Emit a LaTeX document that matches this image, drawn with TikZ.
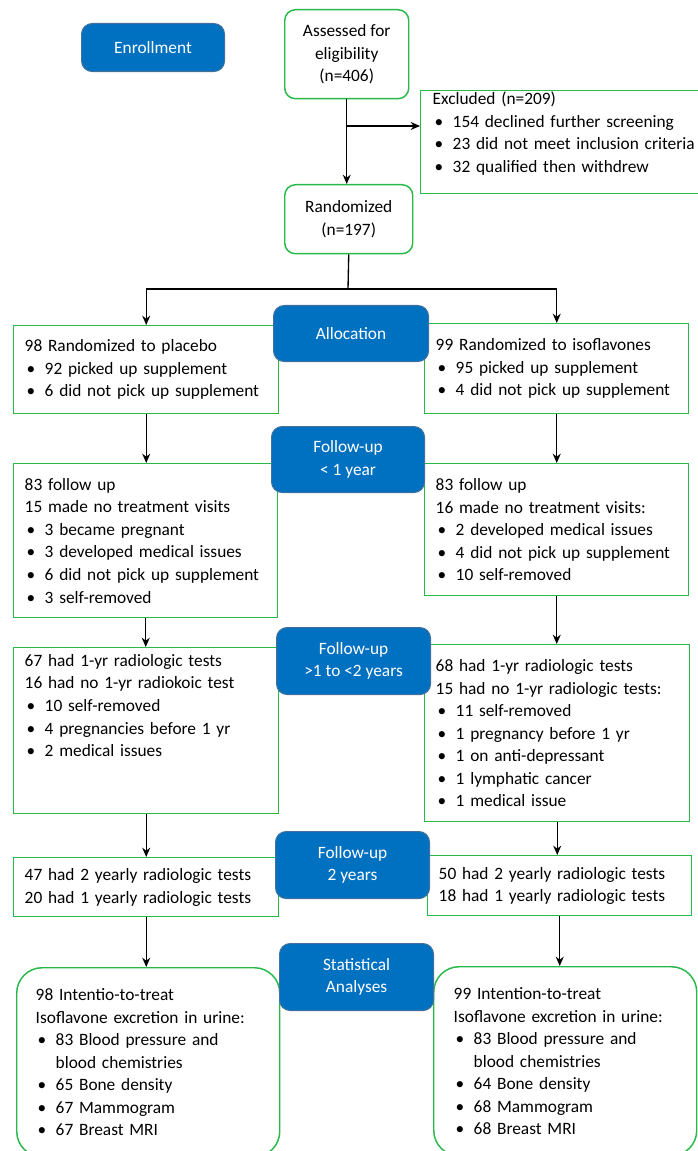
\documentclass[tikz,border=0pt]{standalone}
\usepackage{fontspec}
\setmainfont{Carlito}
\usetikzlibrary{arrows.meta}
\definecolor{boxgreen}{RGB}{40,185,75}
\definecolor{stageblue}{RGB}{0,112,192}
\definecolor{stageedge}{RGB}{65,113,156}
\newcommand{\bul}{\makebox[15pt][l]{\hspace{1.5pt}•}}
\newcommand{\ind}{\hspace*{15pt}}
\hyphenpenalty=10000
\tikzset{
    >={Stealth[length=7pt,width=6pt]},
    box/.append style={draw=boxgreen,line width=1.1pt,rectangle,align=left,inner xsep=8.25pt,inner ysep=2pt,anchor=north west},
    rbox/.append style={box,rounded corners=8pt,align=center},
    stage/.append style={fill=stageblue,draw=stageedge,line width=0.8pt,rounded corners=8pt,text=white,align=center,inner sep=0pt,anchor=north west},
}
\begin{document}
\begin{tikzpicture}[x=0.75pt,y=-0.75pt,font=\fontsize{13}{16.9}\selectfont,line width=1pt]
\useasboundingbox (0,0) rectangle (697,1151);

% enrollment
\node[rbox,minimum width=93pt,minimum height=66.75pt,inner sep=0pt] (assess) at (284,9) {Assessed for\\eligibility\\(n=406)};
\node[box,text width=207pt,inner xsep=9pt,inner ysep=1pt] (excl) at (420,90) {\parbox[c][75.25pt][t]{\linewidth}{Excluded (n=209)\\
    \bul 154 declined further screening\\
    \bul 23 did not meet inclusion criteria\\
    \bul 32 qualified then withdrew}};
\node[rbox,minimum width=96pt,minimum height=51.75pt,inner sep=0pt] (rand) at (284,184) {Randomized\\(n=197)};

% allocation
\node[box,text width=182.25pt,minimum height=66pt] (plac) at (13,325) {98 Randomized to placebo\\
    \bul 92 picked up supplement\\
    \bul 6 did not pick up supplement};
\node[box,text width=181.5pt,minimum height=67.5pt] (isof) at (424,323) {99 Randomized to isoflavones\\
    \bul 95 picked up supplement\\
    \bul 4 did not pick up supplement};

% follow-up
\node[box,text width=181.5pt,minimum height=115.5pt] (fu1l) at (13,463) {83 follow up\\
    15 made no treatment visits\\
    \bul 3 became pregnant\\
    \bul 3 developed medical issues\\
    \bul 6 did not pick up supplement\\
    \bul 3 self-removed};
\node[box,text width=181.5pt,minimum height=99pt] (fu1r) at (424,463) {83 follow up\\
    16 made no treatment visits:\\
    \bul 2 developed medical issues\\
    \bul 4 did not pick up supplement\\
    \bul 10 self-removed};
\node[box,text width=182.25pt,inner ysep=5pt] (fu2l) at (13,647) {\parbox[c][114.5pt][t]{\linewidth}{67 had 1-yr radiologic tests\\
    16 had no 1-yr radiokoic test\\
    \bul 10 self-removed\\
    \bul 4 pregnancies before 1 yr\\
    \bul 2 medical issues}};
\node[box,text width=182.25pt,minimum height=132.75pt] (fu2r) at (424,644) {68 had 1-yr radiologic tests\\
    15 had no 1-yr radiologic tests:\\
    \bul 11 self-removed\\
    \bul 1 pregnancy before 1 yr\\
    \bul 1 on anti-depressant\\
    \bul 1 lymphatic cancer\\
    \bul 1 medical issue};
\node[box,text width=182.25pt,minimum height=44.25pt] (fu3l) at (13,857) {47 had 2 yearly radiologic tests\\
    20 had 1 yearly radiologic tests};
\node[box,text width=181.5pt,minimum height=45pt] (fu3r) at (427,855) {50 had 2 yearly radiologic tests\\
    18 had 1 yearly radiologic tests};

% analysis
\node[box,rounded corners=19pt,text width=168.75pt,inner xsep=14.25pt,minimum height=141.75pt] (itl) at (16,967) {98 Intentio-to-treat\\
    Isoflavone excretion in urine:\\
    \bul 83 Blood pressure and\\
    \ind blood chemistries\\
    \bul 65 Bone density\\
    \bul 67 Mammogram\\
    \bul 67 Breast MRI};
\node[box,rounded corners=19pt,text width=167.25pt,inner xsep=15pt,minimum height=141.75pt] (itr) at (433,966) {99 Intention-to-treat\\
    Isoflavone excretion in urine:\\
    \bul 83 Blood pressure and\\
    \ind blood chemistries\\
    \bul 64 Bone density\\
    \bul 68 Mammogram\\
    \bul 68 Breast MRI};

% stage labels
\node[stage,minimum width=107.25pt,minimum height=36pt] (enroll) at (81,23) {Enrollment};
\node[stage,minimum width=116.25pt,minimum height=42pt] (alloc) at (273,305) {Allocation};
\node[stage,minimum width=114.75pt,minimum height=49.5pt] (fu1) at (271,426) {Follow-up\\< 1 year};
\node[stage,minimum width=115.5pt,minimum height=50.25pt] (fu2) at (276,627) {Follow-up\\>1 to <2 years};
\node[stage,minimum width=115.5pt,minimum height=50.25pt] (fu3) at (275,831) {Follow-up\\2 years};
\node[stage,minimum width=115.5pt,minimum height=50.25pt] (stat) at (279,943) {Statistical\\Analyses};

% connectors
\coordinate (exit) at (347,126);
\coordinate (split) at (348,289);
\draw[->] (assess.south) -- (assess.south |- rand.north);
\draw[->] (exit) -- (exit -| excl.west);
\draw (rand.south) -- (split);
\draw[->] (split) -| (plac.north);
\draw[->] (split) -| (isof.north);
\draw[->] (plac.south) -- (plac.south |- fu1l.north);
\draw[->] (isof.south) -- (isof.south |- fu1r.north);
\draw[->] (fu1l.south) -- (fu1l.south |- fu2l.north);
\draw[->] (fu1r.south) -- (fu1r.south |- fu2r.north);
\draw[->] (fu2l.south) -- (fu2l.south |- fu3l.north);
\draw[->] (fu2r.south) -- (fu2r.south |- fu3r.north);
\draw[->] (fu3l.south) -- (fu3l.south |- itl.north);
\draw[->] (fu3r.south) -- (fu3r.south |- itr.north);
\end{tikzpicture}
\end{document}
